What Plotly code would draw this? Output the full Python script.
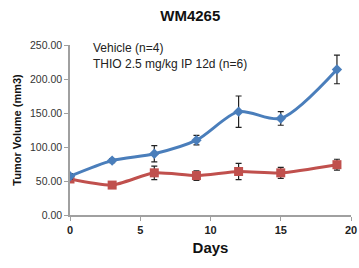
import plotly.graph_objects as go

days = [0, 3, 6, 9, 12, 15, 19]
vehicle = [57, 80, 90, 110, 152, 142, 214]
vehicle_err = [4, 3, 12, 7, 23, 10, 21]
thio = [53, 44, 62, 58, 64, 62, 74]
thio_err = [3, 3, 10, 7, 12, 8, 8]
legend_labels = ["Vehicle (n=4)", "THIO 2.5 mg/kg IP 12d (n=6)"]
y_ticks = [0, 50, 100, 150, 200, 250]
x_ticks = [0, 5, 10, 15, 20]

fig = go.Figure()
fig.add_trace(go.Scatter(
    x=days, y=thio, mode="lines+markers", name=legend_labels[1],
    line=dict(color="#C0504D", width=3, shape="spline", smoothing=0.6),
    marker=dict(symbol="square", size=9, color="#C0504D"),
    error_y=dict(type="data", array=thio_err, color="#222222", thickness=1.2, width=3),
))
fig.add_trace(go.Scatter(
    x=days, y=vehicle, mode="lines+markers", name=legend_labels[0],
    line=dict(color="#4A7EBB", width=3, shape="spline", smoothing=0.8),
    marker=dict(symbol="diamond", size=8, color="#4A7EBB"),
    error_y=dict(type="data", array=vehicle_err, color="#222222", thickness=1.2, width=3),
))

W, H = 359, 268
L, R, T, B = 70, 8, 45, 53

for i, txt in enumerate(legend_labels):
    fig.add_annotation(
        x=(91 - L) / (W - L - R), y=1 - (48 + 16 * i - T) / (H - T - B),
        xref="paper", yref="paper", text=txt, showarrow=False,
        xanchor="left", yanchor="middle",
        font=dict(family="Liberation Sans, Arial", size=12, color="#222222"),
    )

fig.update_layout(
    width=W, height=H,
    margin=dict(l=L, r=R, t=T, b=B),
    paper_bgcolor="white", plot_bgcolor="white",
    showlegend=False,
    title=dict(text="<b>WM4265</b>", x=0.53, xanchor="center", y=0.943, yanchor="middle",
               font=dict(family="Liberation Sans, Arial", size=15, color="#111111")),
    xaxis=dict(
        range=[0, 20], tickvals=x_ticks, ticktext=[f"<b>{v}</b>" for v in x_ticks],
        showline=True, linecolor="#A0A0A0", linewidth=1.5,
        ticks="outside", ticklen=4, tickcolor="#A0A0A0",
        showgrid=False, zeroline=False, automargin=False,
        tickfont=dict(family="Liberation Sans, Arial", size=11, color="#222222"),
        title=dict(text="<b>Days</b>", standoff=8,
                   font=dict(family="Liberation Sans, Arial", size=15, color="#111111")),
    ),
    yaxis=dict(
        range=[0, 250], tickvals=y_ticks, ticktext=[f"{v:.2f}" for v in y_ticks],
        showline=True, linecolor="#A0A0A0", linewidth=1.5,
        ticks="outside", ticklen=4, tickcolor="#A0A0A0",
        showgrid=False, zeroline=False, automargin=False,
        tickfont=dict(family="Liberation Sans, Arial", size=10.5, color="#333333"),
        title=dict(text="<b>Tumor Volume (mm3)</b>", standoff=6,
                   font=dict(family="Liberation Sans, Arial", size=11, color="#111111")),
    ),
)

fig.write_html("out.html", config={"displayModeBar": False},
               post_script="document.body.style.margin='0';")
